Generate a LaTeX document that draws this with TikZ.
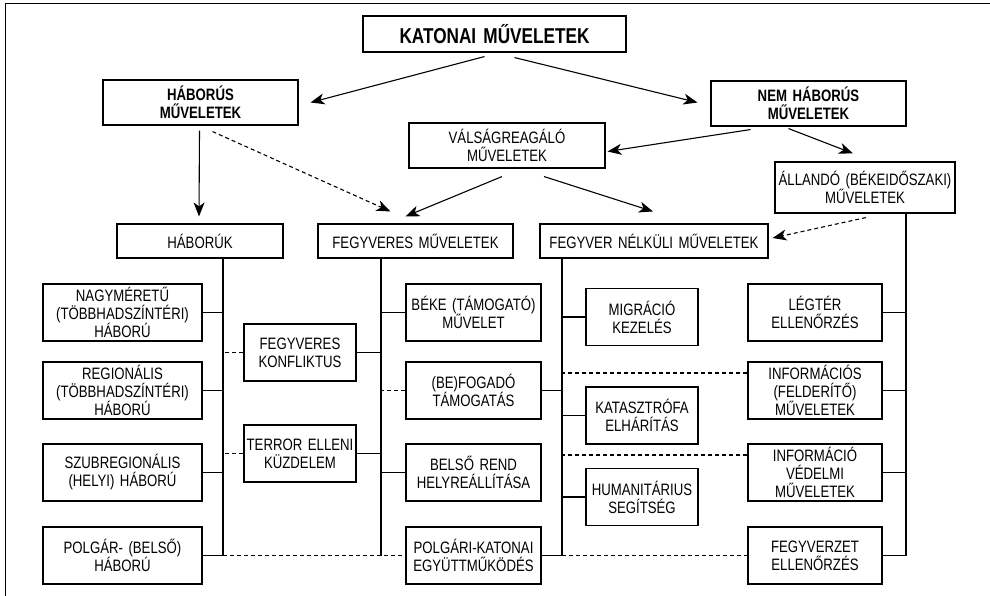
\documentclass[tikz,border=0pt]{standalone}
\usepackage{fontspec}
\setmainfont{Liberation Sans}[FakeStretch=0.8]
\usetikzlibrary{calc, arrows.meta}

\tikzset{
	box/.style = {draw, inner sep=0pt, align=center, font=\fontsize{16.5}{18}\selectfont},
	headbox/.style = {box, font=\fontsize{16.5}{17.5}\selectfont\bfseries},
	colA/.style = {box, text width=159pt, minimum height=57pt},
	colB/.style = {box, text width=112pt, minimum height=57pt},
	colC/.style = {box, text width=135pt, minimum height=57pt},
	colD/.style = {box, text width=112pt, minimum height=57pt},
	colE/.style = {box, text width=134pt, minimum height=57pt},
	arr/.style = {-{Stealth[length=14pt, width=11pt, inset=4pt]}},
	dsh/.style = {dash pattern=on 4pt off 3pt}
}

\begin{document}
\begin{tikzpicture}[x=1pt, y=-1pt, line width=1.1pt]
	\def\rowA{312.5}
	\def\rowB{390.5}
	\def\rowC{472.5}
	\def\rowD{555.5}

	\useasboundingbox (0,0) rectangle (990,596);
	\draw[line width=0.8pt] (5,596) -- (5,3) -- (990,3);

	% upper levels
	\node[box, text width=263pt, minimum height=36pt, font=\fontsize{21.5}{24}\selectfont\bfseries] (kat) at (494.5,34) {KATONAI MŰVELETEK};
	\node[headbox, text width=195pt, minimum height=45pt] (hab) at (200.5,102.5) {HÁBORÚS\\MŰVELETEK};
	\node[headbox, text width=195pt, minimum height=45pt] (nem) at (808.5,103.5) {NEM HÁBORÚS\\MŰVELETEK};
	\node[box, text width=196pt, minimum height=45pt] (val) at (507,145.5) {VÁLSÁGREAGÁLÓ\\MŰVELETEK};
	\node[box, text width=180pt, minimum height=51pt] (all) at (865,187.5) {ÁLLANDÓ (BÉKEIDŐSZAKI)\\MŰVELETEK};

	\node[box, text width=166pt, minimum height=34pt] (habk) at (200,241) {HÁBORÚK};
	\node[box, text width=195pt, minimum height=34pt] (fegy) at (415.5,241) {FEGYVERES MŰVELETEK};
	\node[box, text width=228pt, minimum height=34pt] (fnel) at (654,241) {FEGYVER NÉLKÜLI MŰVELETEK};

	% lower boxes
	\node[colA] (nagy) at (122.5,\rowA) {NAGYMÉRETŰ\\(TÖBBHADSZÍNTÉRI)\\HÁBORÚ};
	\node[colA] (reg) at (122.5,\rowB) {REGIONÁLIS\\(TÖBBHADSZÍNTÉRI)\\HÁBORÚ};
	\node[colA] (szub) at (122.5,\rowC) {SZUBREGIONÁLIS\\(HELYI) HÁBORÚ};
	\node[colA] (polg) at (122.5,\rowD) {POLGÁR- (BELSŐ)\\HÁBORÚ};

	\node[colB] (konf) at (300,352.5) {FEGYVERES\\KONFLIKTUS};
	\node[colB] (terror) at (300,453.5) {TERROR ELLENI\\KÜZDELEM};

	\node[colC] (beke) at (473.5,\rowA) {BÉKE (TÁMOGATÓ)\\MŰVELET};
	\node[colC] (fog) at (473.5,\rowB) {(BE)FOGADÓ\\TÁMOGATÁS};
	\node[colC] (belso) at (473.5,\rowC) {BELSŐ REND\\HELYREÁLLÍTÁSA};
	\node[colC] (pkat) at (473.5,\rowD) {POLGÁRI-KATONAI\\EGYÜTTMŰKÖDÉS};

	\node[colD] (migr) at (642,317) {MIGRÁCIÓ\\KEZELÉS};
	\node[colD] (katasz) at (642,415.5) {KATASZTRÓFA\\ELHÁRÍTÁS};
	\node[colD] (hum) at (642,497) {HUMANITÁRIUS\\SEGÍTSÉG};

	\node[colE] (legter) at (815,\rowA) {LÉGTÉR\\ELLENŐRZÉS};
	\node[colE] (infF) at (815,\rowB) {INFORMÁCIÓS\\(FELDERÍTŐ)\\MŰVELETEK};
	\node[colE] (infV) at (815,\rowC) {INFORMÁCIÓ\\VÉDELMI\\MŰVELETEK};
	\node[colE] (fegyz) at (815,\rowD) {FEGYVERZET\\ELLENŐRZÉS};

	% arrows
	\begin{scope}[arr]
		\draw ($(kat.south)+(-10,4)$) -- ($(hab.east)+(12,0)$);
		\draw ($(kat.south)+(20,5)$) -- ($(nem.west)+(-13,-1)$);
		\draw ($(hab.south)+(-1,5)$) -- ($(habk.north)+(-1,-7)$);
		\draw[dsh] ($(hab.south)+(12,6)$) -- ($(fegy.north)+(-25,-12)$);
		\draw ($(val.south)+(-5,8)$) -- ($(fegy.north)+(-10,-7)$);
		\draw ($(val.south)+(37,8)$) -- ($(fnel.north)+(-1,-12)$);
		\draw ($(nem.south)+(-58,3)$) -- ($(val.east)+(2,6)$);
		\draw ($(nem.south)+(-20,2)$) -- ($(all.north)+(-12,-8)$);
		\draw[dsh] ($(all.south)+(1,4)$) -- ($(fnel.east)+(4,-3)$);
	\end{scope}

	% trunks
	\coordinate (tA) at (223,\rowD);
	\coordinate (tB) at (381,\rowD);
	\coordinate (tC) at (562,\rowD);
	\coordinate (tD) at (906,\rowD);
	\draw (habk.south -| tA) -- (tA);
	\draw (fegy.south -| tB) -- (tB);
	\draw (fnel.south -| tC) -- (tC);
	\draw (all.south -| tD) -- (tD);

	\foreach \n in {nagy, reg, szub, polg}
		\draw (\n.east) -- (\n.east -| tA);
	\foreach \n in {konf, terror}
		\draw (\n.east) -- (\n.east -| tB);
	\foreach \n in {beke, belso}
		\draw (\n.west) -- (\n.west -| tB);
	\foreach \n in {fog, pkat}
		\draw (\n.east) -- (\n.east -| tC);
	\foreach \n in {migr, katasz, hum}
		\draw (\n.west) -- (\n.west -| tC);
	\foreach \n in {legter, infF, infV, fegyz}
		\draw (\n.east) -- (\n.east -| tD);

	\begin{scope}[dsh]
		\draw (konf.west) -- (konf.west -| tA);
		\draw (terror.west) -- (terror.west -| tA);
		\draw (fog.west) -- (fog.west -| tB);
		\draw (tA) -- (pkat.west);
		\draw (tC) -- (fegyz.west);
		\draw ([yshift=17.5pt]infF.west) -- ([yshift=17.5pt]infF.west -| tC);
		\draw ([yshift=17.5pt]infV.west) -- ([yshift=17.5pt]infV.west -| tC);
	\end{scope}

\end{tikzpicture}
\end{document}
